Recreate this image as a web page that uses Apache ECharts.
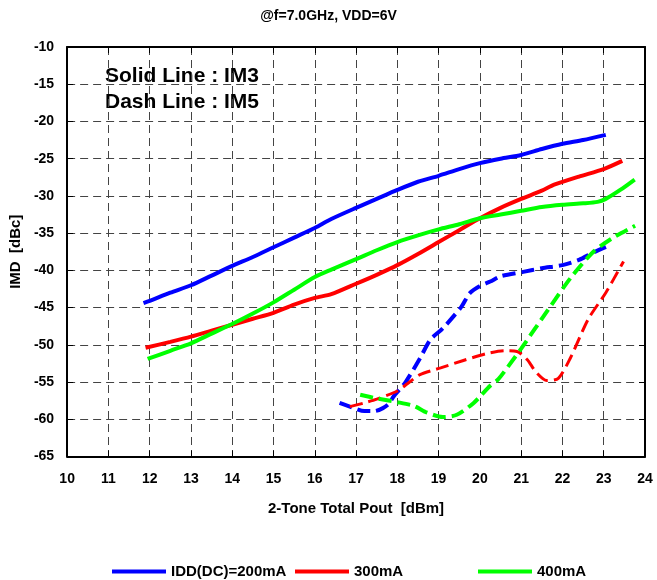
<!DOCTYPE html>
<html>
<head>
<meta charset="utf-8">
<title>IMD vs 2-Tone Total Pout</title>
<script src="https://cdn.jsdelivr.net/npm/echarts@6/dist/echarts.min.js"></script>
<style>
  html, body { margin: 0; padding: 0; background: #fff; }
  #chart { width: 657px; height: 580px; }
</style>
</head>
<body>
<div id="chart"></div>
<script>
// Axis ranges
const X_MIN = 10, X_MAX = 24, X_STEP = 1;
const Y_MIN = -65, Y_MAX = -10, Y_STEP = 5;

// Legend labels
const seriesNames = ['IDD(DC)=200mA', '300mA', '400mA'];

// IM3 (solid) — IDD = 200 mA
const im3_200_pout = [11.85, 12, 12.5, 13, 13.5, 14, 14.5, 15, 15.5, 16, 16.4, 17, 17.5, 18, 18.5, 19, 19.5, 20, 20.5, 21, 21.5, 22, 22.5, 23.05];
const im3_200_imd  = [-44.4, -44.1, -43.0, -42.0, -40.7, -39.4, -38.2, -36.9, -35.6, -34.3, -33.1, -31.6, -30.4, -29.2, -28.1, -27.3, -26.4, -25.6, -25.0, -24.5, -23.7, -23.0, -22.5, -21.8];

// IM3 (solid) — IDD = 300 mA
const im3_300_pout = [11.9, 12.5, 13, 13.5, 14, 14.5, 15, 15.5, 16, 16.4, 17, 17.5, 18, 18.5, 19, 19.5, 20, 20.5, 21, 21.5, 21.8, 22.4, 23, 23.45];
const im3_300_imd  = [-50.4, -49.6, -48.9, -48.1, -47.3, -46.5, -45.7, -44.6, -43.7, -43.2, -41.8, -40.6, -39.3, -37.8, -36.2, -34.6, -33.0, -31.6, -30.4, -29.3, -28.5, -27.4, -26.4, -25.3];

// IM3 (solid) — IDD = 400 mA
const im3_400_pout = [11.95, 12.5, 13, 13.5, 14, 14.5, 15, 15.5, 16, 16.4, 17, 17.5, 18, 18.5, 19, 19.5, 20, 20.5, 21, 21.5, 22, 22.5, 22.85, 23.05, 23.4, 23.75];
const im3_400_imd  = [-51.9, -50.8, -49.8, -48.5, -47.2, -45.8, -44.3, -42.6, -40.9, -39.9, -38.5, -37.3, -36.2, -35.3, -34.5, -33.8, -33.0, -32.5, -32.0, -31.5, -31.2, -31.0, -30.8, -30.4, -29.2, -27.8];

// IM5 (dashed) — IDD = 200 mA
const im5_200_pout = [16.6, 16.9, 17.2, 17.45, 17.65, 17.8, 17.9, 18.2, 18.55, 18.8, 19.1, 19.55, 19.75, 20.0, 20.25, 20.5, 21.05, 21.5, 22.0, 22.4, 22.75, 23.07];
const im5_200_imd  = [-57.8, -58.4, -58.9, -58.9, -58.5, -57.9, -57.0, -55.0, -51.8, -49.3, -47.8, -44.9, -43.1, -42.1, -41.5, -40.8, -40.2, -39.7, -39.3, -38.6, -37.6, -36.8];

// IM5 (dashed) — IDD = 300 mA
const im5_300_pout = [16.85, 17.2, 17.5, 18.0, 18.25, 18.55, 19.05, 19.6, 20.15, 20.6, 20.9, 21.15, 21.35, 21.62, 21.9, 22.19, 22.62, 23.05, 23.48];
const im5_300_imd  = [-58.3, -57.8, -57.3, -56.2, -55.2, -54.0, -53.1, -52.1, -51.2, -50.8, -50.9, -52.0, -53.6, -54.8, -54.5, -51.8, -46.6, -43.0, -38.8];

// IM5 (dashed) — IDD = 400 mA
const im5_400_pout = [17.1, 17.5, 18.0, 18.4, 18.72, 19.1, 19.44, 19.85, 20.25, 20.45, 21.0, 21.65, 22.2, 22.75, 23.23, 23.76];
const im5_400_imd  = [-56.7, -57.2, -57.7, -58.2, -59.1, -59.7, -59.4, -57.8, -55.5, -54.6, -50.5, -45.3, -41.0, -37.5, -35.6, -34.0];

const COLORS = ['#0000ff', '#ff0000', '#00ff00'];
const FONT = '"Liberation Sans", Arial, Helvetica, sans-serif';

function pairs(xs, ys) { return xs.map((x, i) => [x, ys[i]]); }

function solid(name, xs, ys, color) {
  return {
    name, type: 'line', xAxisIndex: 0, yAxisIndex: 0,
    data: pairs(xs, ys), showSymbol: false, smooth: 0.25,
    color, lineStyle: { color, width: 4 }, z: 3
  };
}
function dashed(name, xs, ys, color, width) {
  return {
    name, type: 'line', xAxisIndex: 0, yAxisIndex: 0,
    data: pairs(xs, ys), showSymbol: false, smooth: 0.25,
    color, lineStyle: { color, width, type: [13, 6] }, z: 2
  };
}

const axisLine = { show: true, onZero: false, lineStyle: { color: '#000', width: 2 } };
const tickIn = { show: true, inside: true, length: 6, lineStyle: { color: '#000', width: 1 } };
const grid = { show: true, lineStyle: { color: '#444', width: 1, type: [8, 5] } };
const tickFont = { fontFamily: FONT, fontWeight: 'bold', fontSize: 14, color: '#000' };
const nameFont = { fontFamily: FONT, fontWeight: 'bold', fontSize: 15, color: '#000' };

function legendFor(name, left) {
  return {
    data: [name], left, top: 564, padding: 0,
    icon: 'rect', itemWidth: 54, itemHeight: 4,
    selectedMode: false,
    textStyle: { fontFamily: FONT, fontWeight: 'bold', fontSize: 15, color: '#000' }
  };
}

const chart = echarts.init(document.getElementById('chart'), null, { renderer: 'canvas' });
chart.setOption({
  animation: false,
  backgroundColor: '#fff',
  title: {
    text: '@f=7.0GHz, VDD=6V', left: 'center', top: 9, padding: 0,
    textStyle: { fontFamily: FONT, fontWeight: 'bold', fontSize: 14, color: '#000' }
  },
  grid: { left: 67, right: 12, top: 47, bottom: 123.5, containLabel: false },
  legend: [
    legendFor(seriesNames[0], 112),
    legendFor(seriesNames[1], 295),
    legendFor(seriesNames[2], 478)
  ],
  xAxis: [
    {
      type: 'value', position: 'bottom', min: X_MIN, max: X_MAX, interval: X_STEP,
      name: '2-Tone Total Pout  [dBm]', nameLocation: 'middle', nameGap: 45,
      nameTextStyle: nameFont,
      axisLine, axisTick: tickIn, splitLine: grid,
      axisLabel: Object.assign({ margin: 16 }, tickFont)
    },
    {
      type: 'value', position: 'top', min: X_MIN, max: X_MAX, interval: X_STEP,
      axisLine, axisTick: tickIn, splitLine: { show: false }, axisLabel: { show: false }
    }
  ],
  yAxis: [
    {
      type: 'value', position: 'left', min: Y_MIN, max: Y_MAX, interval: Y_STEP,
      name: 'IMD  [dBc]', nameLocation: 'middle', nameGap: 44, nameRotate: 90,
      nameTextStyle: nameFont,
      axisLine, axisTick: tickIn, splitLine: grid,
      axisLabel: Object.assign({ margin: 13 }, tickFont)
    },
    {
      type: 'value', position: 'right', min: Y_MIN, max: Y_MAX, interval: Y_STEP,
      axisLine, axisTick: tickIn, splitLine: { show: false }, axisLabel: { show: false }
    }
  ],
  graphic: [
    {
      type: 'text', left: 105, top: 66,
      style: { text: 'Solid Line : IM3', font: 'bold 21px ' + FONT, fill: '#000' }
    },
    {
      type: 'text', left: 105, top: 92,
      style: { text: 'Dash Line : IM5', font: 'bold 21px ' + FONT, fill: '#000' }
    }
  ],
  series: [
    solid(seriesNames[0], im3_200_pout, im3_200_imd, COLORS[0]),
    solid(seriesNames[1], im3_300_pout, im3_300_imd, COLORS[1]),
    solid(seriesNames[2], im3_400_pout, im3_400_imd, COLORS[2]),
    dashed('IM5 200mA', im5_200_pout, im5_200_imd, COLORS[0], 4),
    dashed('IM5 300mA', im5_300_pout, im5_300_imd, COLORS[1], 3),
    dashed('IM5 400mA', im5_400_pout, im5_400_imd, COLORS[2], 4)
  ]
});
</script>
</body>
</html>
